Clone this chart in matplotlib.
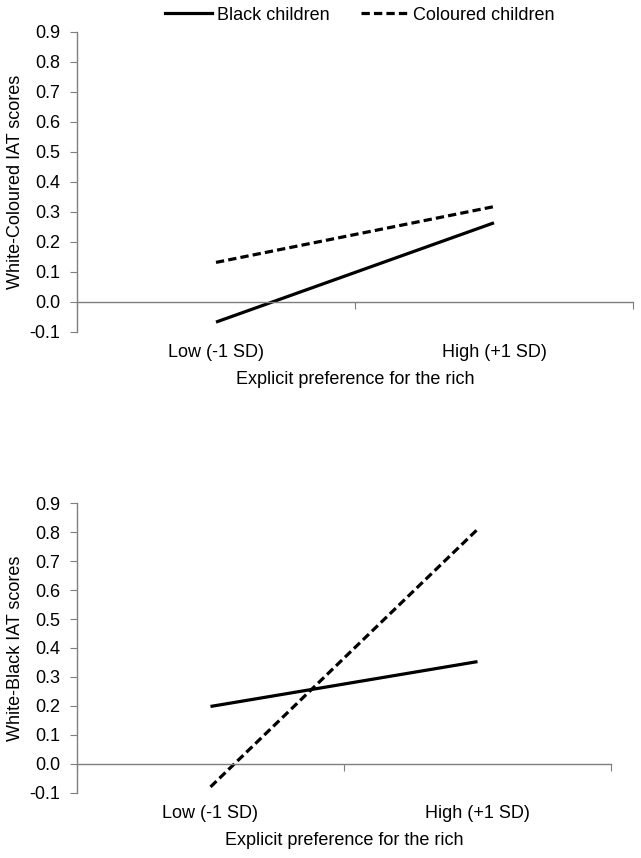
import matplotlib
matplotlib.use("Agg")
import matplotlib.pyplot as plt
import matplotlib.transforms as mtransforms
from matplotlib.lines import Line2D

plt.rcParams["font.family"] = ["Liberation Sans", "DejaVu Sans"]
plt.rcParams["font.size"] = 13

categories = ["Low (-1 SD)", "High (+1 SD)"]
series_names = ["Black children", "Coloured children"]
top_black = [-0.068, 0.263]
top_coloured = [0.131, 0.317]
bottom_black = [0.198, 0.353]
bottom_coloured = [-0.080, 0.810]
y_ticks = [-0.1, 0.0, 0.1, 0.2, 0.3, 0.4, 0.5, 0.6, 0.7, 0.8, 0.9]
x_label = "Explicit preference for the rich"
top_ylabel = "White-Coloured IAT scores"
bottom_ylabel = "White-Black IAT scores"

axis_grey = "#7f7f7f"
dash_style = (0, (2.6, 1.3))
fs = 13

W, H = 641, 858
fig = plt.figure(figsize=(W / 100, H / 100), dpi=100)
# axes boxes in pixels: left, top, right, bottom
top_box = (77, 31.7, 633, 331.7)
bot_box = (77, 503.3, 611, 792.7)


def make_axes(box):
    l, t, r, b = box
    return fig.add_axes([l / W, 1 - b / H, (r - l) / W, (b - t) / H])


ax_top = make_axes(top_box)
ax_bot = make_axes(bot_box)


def style_panel(ax, box, black, coloured, ylabel):
    l, t, r, b = box
    w_px, h_px = r - l, b - t
    xs = list(range(len(categories)))
    ax.plot(xs, black, color="black", lw=2.3, solid_capstyle="butt")
    ax.plot(xs, coloured, color="black", lw=2.3, linestyle=dash_style,
            dash_capstyle="butt")
    ax.set_xlim(-0.5, len(categories) - 0.5)
    ax.set_ylim(-0.1, 0.9)
    ax.set_yticks(y_ticks)
    ax.set_yticklabels([f"{v:.1f}" for v in y_ticks])
    for s in ["top", "right"]:
        ax.spines[s].set_visible(False)
    ax.spines["bottom"].set_position(("data", 0))
    for s in ["left", "bottom"]:
        ax.spines[s].set_color(axis_grey)
        ax.spines[s].set_linewidth(1.0)
    ax.set_xticks([-0.5, 0.5, 1.5])
    ax.set_xticklabels([])
    ax.tick_params(axis="x", direction="out", length=5, color=axis_grey)
    ax.tick_params(axis="y", direction="out", length=5, color=axis_grey,
                   pad=7, labelsize=fs)
    trans = mtransforms.blended_transform_factory(ax.transData, ax.transAxes)
    for i, c in enumerate(categories):
        ax.text(i, -21.0 / h_px, c, transform=trans, ha="center",
                va="center", fontsize=fs)
    ax.text(0.5, -48.0 / h_px, x_label, transform=ax.transAxes, ha="center",
            va="center", fontsize=fs)
    ax.set_ylabel(ylabel, fontsize=fs, va="center")
    ax.yaxis.set_label_coords(-61.0 / w_px, 0.5)
    ax.patch.set_visible(False)


style_panel(ax_top, top_box, top_black, top_coloured, top_ylabel)
style_panel(ax_bot, bot_box, bottom_black, bottom_coloured, bottom_ylabel)

handles = [Line2D([], [], color="black", lw=2.3),
           Line2D([], [], color="black", lw=2.3, linestyle=dash_style)]
fig.legend(handles, series_names, loc="center",
           bbox_to_anchor=(360 / W, 1 - 15 / H),
           ncol=2, frameon=False, handlelength=2.6, handletextpad=0.28,
           columnspacing=1.75, fontsize=fs, borderpad=0)

fig.savefig("out.png", dpi=100)
